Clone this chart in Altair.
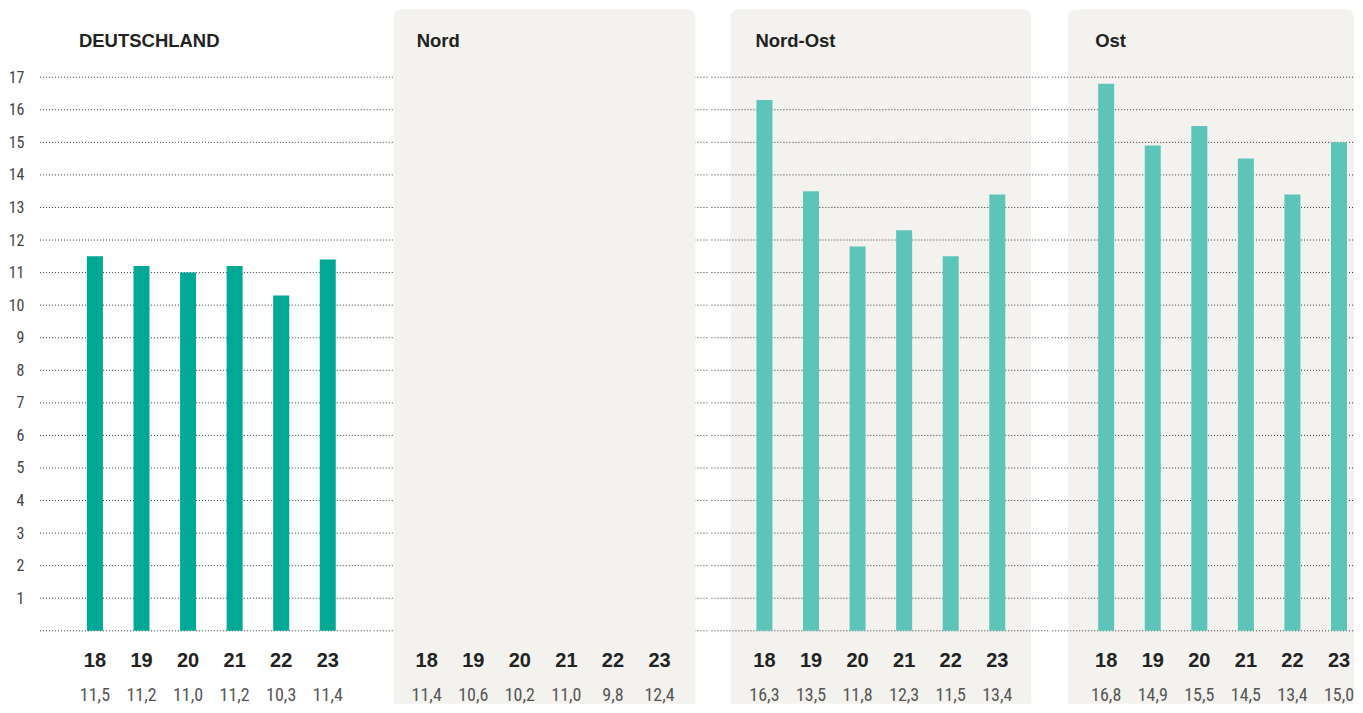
import altair as alt
import pandas as pd

# ---- data ----
years = ["18", "19", "20", "21", "22", "23"]
regions = ["DEUTSCHLAND", "Nord", "Nord-Ost", "Ost"]
values_de = [11.5, 11.2, 11.0, 11.2, 10.3, 11.4]
values_nord = [11.4, 10.6, 10.2, 11.0, 9.8, 12.4]
values_nordost = [16.3, 13.5, 11.8, 12.3, 11.5, 13.4]
values_ost = [16.8, 14.9, 15.5, 14.5, 13.4, 15.0]
grid_values = list(range(0, 18))
axis_labels = list(range(1, 18))

# ---- styles ----
H = 554
BG = "#F3F2EE"
DARK_TEAL = "#00A896"
LIGHT_TEAL = "#5CC4B9"
BOLD_FONT = "Liberation Sans"
NARROW_FONT = "Liberation Sans Narrow, Roboto Condensed, Liberation Sans"
BOX_TOP = -68
BOX_BOTTOM = H + 73
SPAN = 233

panels = [
    dict(name=regions[0], vals=values_de, width=334, c0=56, tx=40, box=None,
         color=DARK_TEAL, bar_opacity=1, box_on_top=False),
    dict(name=regions[1], vals=values_nord, width=338, c0=54, tx=44, box=(21, 323),
         color=LIGHT_TEAL, bar_opacity=0, box_on_top=True),
    dict(name=regions[2], vals=values_nordost, width=341, c0=54, tx=45, box=(20, 321),
         color=LIGHT_TEAL, bar_opacity=1, box_on_top=False),
    dict(name=regions[3], vals=values_ost, width=303, c0=55, tx=44, box=(17, 303),
         color=LIGHT_TEAL, bar_opacity=1, box_on_top=False),
]

yscale = alt.Scale(domain=[0, 17], nice=False, zero=True)


def make_panel(i, p):
    W = p["width"]
    df = pd.DataFrame({
        "year": years,
        "value": p["vals"],
        "label": [f"{v:.1f}".replace(".", ",") for v in p["vals"]],
    })
    if i == 0:
        yaxis = alt.Axis(values=axis_labels, title=None, domain=False, ticks=False,
                         tickSize=0, grid=False, labelFont=NARROW_FONT,
                         labelFontSize=16, labelColor="#444", labelPadding=15)
    else:
        yaxis = None
    xenc = alt.X("year:O", sort=years, axis=None,
                 scale=alt.Scale(type="point", range=[p["c0"], p["c0"] + SPAN], padding=0))

    one = pd.DataFrame({"r": [p["name"]]})
    if p["box"] is None:
        box = alt.Chart(one).mark_rect(opacity=0).encode(
            x=alt.value(0), x2=alt.value(W), y=alt.value(BOX_TOP), y2=alt.value(BOX_BOTTOM))
    else:
        box = alt.Chart(one).mark_rect(color=BG, cornerRadiusTopLeft=8,
                                       cornerRadiusTopRight=8).encode(
            x=alt.value(p["box"][0]), x2=alt.value(p["box"][1]),
            y=alt.value(BOX_TOP), y2=alt.value(BOX_BOTTOM))

    grid = alt.Chart(pd.DataFrame({"v": grid_values})).mark_rule(
        color="#333", strokeDash=[1, 2], strokeWidth=1).encode(
        y=alt.Y("v:Q", scale=yscale, axis=yaxis),
        x=alt.value(1), x2=alt.value(W - 1))

    bars = alt.Chart(df).mark_bar(size=16, color=p["color"], opacity=p["bar_opacity"]).encode(
        x=xenc, y=alt.Y("value:Q", scale=yscale, axis=yaxis))

    year_text = alt.Chart(df).mark_text(font=BOLD_FONT, fontSize=20, fontWeight="bold",
                                        color="#222", baseline="alphabetic").encode(
        x=xenc, y=alt.value(H + 36), text="year:N")

    val_text = alt.Chart(df).mark_text(font=NARROW_FONT, fontSize=18, color="#555",
                                       baseline="alphabetic").encode(
        x=xenc, y=alt.value(H + 70), text="label:N")

    title = alt.Chart(one).mark_text(font=BOLD_FONT, fontSize=18.5, fontWeight="bold",
                                     color="#222", align="left",
                                     baseline="alphabetic").encode(
        x=alt.value(p["tx"]), y=alt.value(-30), text="r:N")

    if p["box_on_top"]:
        layers = [grid, box, bars, year_text, val_text, title]
    else:
        layers = [box, grid, bars, year_text, val_text, title]
    return alt.layer(*layers).properties(width=W, height=H)


chart = alt.hconcat(*[make_panel(i, p) for i, p in enumerate(panels)], spacing=0).properties(
    padding={"left": 0, "top": 1, "right": 0, "bottom": 0}
).configure_view(stroke=None)

chart.save("out.html", embed_options={"renderer": "svg", "actions": False})
